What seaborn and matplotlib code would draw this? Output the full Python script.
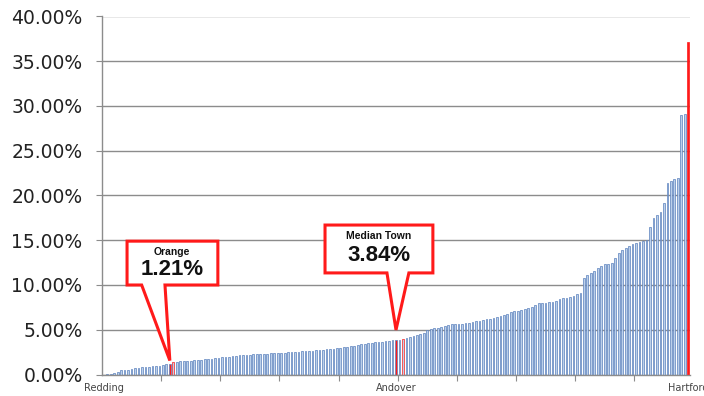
import numpy as np
import pandas as pd
import matplotlib
matplotlib.use("Agg")
import matplotlib.pyplot as plt
from matplotlib.patches import Polygon
from matplotlib.ticker import FuncFormatter, FixedLocator
import seaborn as sns

# Share of residents, by town, sorted from lowest to highest (percent)
rates = [
    0.00, 0.02, 0.10, 0.20, 0.30, 0.45, 0.50, 0.55, 0.62, 0.70,
    0.75, 0.80, 0.85, 0.88, 0.92, 0.95, 1.00, 1.05, 1.12, 1.21,
    1.40, 1.43, 1.46, 1.49, 1.52, 1.55, 1.58, 1.62, 1.66, 1.70,
    1.74, 1.78, 1.82, 1.86, 1.90, 1.95, 2.00, 2.05, 2.10, 2.15,
    2.18, 2.20, 2.22, 2.25, 2.27, 2.30, 2.32, 2.34, 2.36, 2.38,
    2.40, 2.42, 2.44, 2.47, 2.50, 2.52, 2.55, 2.58, 2.60, 2.63,
    2.66, 2.70, 2.73, 2.76, 2.80, 2.84, 2.88, 2.92, 2.96, 3.02,
    3.08, 3.14, 3.20, 3.28, 3.36, 3.44, 3.50, 3.55, 3.60, 3.64,
    3.68, 3.72, 3.76, 3.80, 3.84, 3.90, 4.00, 4.10, 4.20, 4.30,
    4.40, 4.50, 4.60, 4.95, 5.05, 5.15, 5.25, 5.35, 5.45, 5.55,
    5.60, 5.62, 5.65, 5.68, 5.72, 5.80, 5.90, 5.95, 6.00, 6.08,
    6.15, 6.25, 6.35, 6.42, 6.50, 6.65, 6.80, 6.95, 7.05, 7.15,
    7.25, 7.35, 7.42, 7.55, 7.75, 7.95, 8.00, 8.02, 8.05, 8.10,
    8.20, 8.40, 8.55, 8.60, 8.70, 8.80, 8.95, 9.10, 10.80, 11.10,
    11.30, 11.60, 11.90, 12.10, 12.30, 12.40, 12.50, 13.00, 13.60, 13.90,
    14.10, 14.40, 14.60, 14.70, 14.80, 14.90, 15.00, 16.50, 17.50, 17.80,
    18.20, 19.20, 21.40, 21.60, 21.80, 22.00, 29.00, 29.10, 37.20,
]

# Named towns along the sorted axis
first_town = "Redding"
median_town = "Andover"
last_town = "Hartford"
orange_town = "Orange"
orange_rate = 1.21

n = len(rates)
rank = np.arange(n)
i_orange = rates.index(orange_rate)
i_median = n // 2
i_last = n - 1
highlighted = {i_orange, i_median, i_last}

df = pd.DataFrame({
    "rank": rank,
    "rate": rates,
    "group": ["hi" if i in highlighted else "base" for i in rank],
})

sns.set_theme(style="white")
plt.rcParams["font.family"] = ["DejaVu Sans"]

fig = plt.figure(figsize=(7.04, 3.96), dpi=100)
ax = fig.add_axes([102 / 704, 1 - 374.5 / 396, 588 / 704, (374.5 - 16.5) / 396])

sns.barplot(
    data=df, x="rank", y="rate", hue="group",
    palette={"base": "#BCD0EA", "hi": "#FF1A1A"},
    dodge=False, width=0.5, legend=False, ax=ax,
    saturation=1, linewidth=0.5,
)
for patch, g in zip(ax.patches, df["group"]):
    patch.set_edgecolor("#FF1A1A" if g == "hi" else "#5A80BC")

ax.set_xlim(-0.5, n - 0.5)
ax.set_ylim(0, 40)
ax.set_yticks(np.arange(0, 41, 5))
ax.yaxis.set_major_formatter(FuncFormatter(lambda v, _: f"{v:.2f}%"))
ax.yaxis.grid(True, color="#8C8C8C", linewidth=1.0)
ax.set_axisbelow(True)

ax.set_xticks([0, i_median, i_last])
ax.set_xticklabels([first_town, median_town, last_town])
ax.xaxis.set_minor_locator(FixedLocator([k * 17 - 0.5 for k in range(1, 10)]))
ax.tick_params(axis="x", which="major", length=0, labelsize=7, colors="#444444", pad=6)
ax.tick_params(axis="x", which="minor", length=4, width=0.8, color="#8C8C8C", bottom=True)
ax.tick_params(axis="y", length=4, width=0.8, color="#8C8C8C", labelsize=13.5,
               labelcolor="#222222", left=True, pad=10)
ax.set_xlabel("")
ax.set_ylabel("")

for side in ("top", "right"):
    ax.spines[side].set_visible(False)
for side in ("left", "bottom"):
    ax.spines[side].set_color("#8C8C8C")
    ax.spines[side].set_linewidth(1.0)


def callout(x0, x1, y0, y1, b0, b1, tip, title, value, tx, ty_title, ty_value):
    verts = [(x0, y1), (x1, y1), (x1, y0), (b1, y0), tip, (b0, y0), (x0, y0)]
    ax.add_patch(Polygon(verts, closed=True, facecolor="white",
                         edgecolor="#FF1A1A", linewidth=2.2, zorder=5))
    ax.text(tx, ty_title, title, ha="center", va="center", fontsize=7.5,
            fontweight="bold", color="#111111", zorder=6,
            family=["Liberation Sans", "DejaVu Sans"])
    ax.text(tx, ty_value, value, ha="center", va="center", fontsize=16,
            fontweight="bold", color="#111111", zorder=6,
            family=["Liberation Sans", "DejaVu Sans"])


callout(6.7, 32.8, 10.0, 14.9, 10.9, 17.6, (i_orange, orange_rate + 0.35),
        orange_town, f"{orange_rate:.2f}%", 19.6, 13.7, 11.7)
callout(63.6, 94.6, 11.35, 16.7, 81.4, 87.7, (i_median, 4.98),
        "Median Town", f"{rates[i_median]:.2f}%", 79.1, 15.5, 13.35)

fig.savefig("out.png", dpi=100)
